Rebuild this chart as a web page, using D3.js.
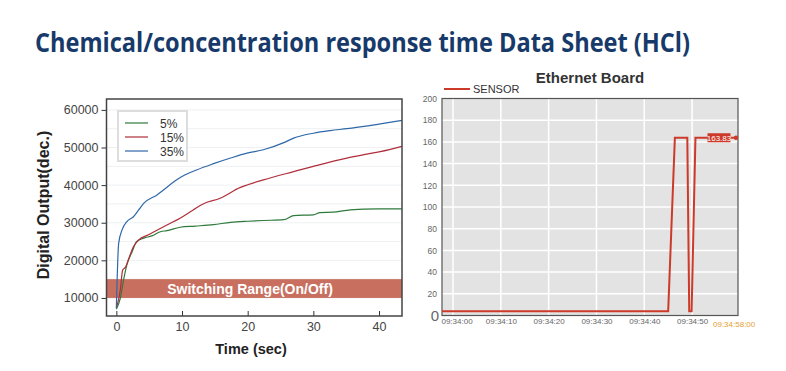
<!DOCTYPE html>
<html>
<head>
<meta charset="utf-8">
<script src="https://cdn.jsdelivr.net/npm/d3@7"></script>
<style>
  body { margin: 0; background: #fff; }
  svg { display: block; font-family: "Liberation Sans", Arial, sans-serif; }
</style>
</head>
<body>
<svg id="chart" width="786" height="371"></svg>
<script>
'use strict'

/****** DATA ******/

const TITLE = 'Chemical/concentration response time Data Sheet (HCl)'

// left chart: [time (sec), digital output]
const series5 = [[0,7000],[0.6,9900],[1.1,14800],[1.6,18800],[2.4,22300],[3.1,25000],[4.2,25900],[5.4,26500],
  [6.7,27600],[7.7,27900],[9.7,28800],[12,29100],[14.8,29500],[17.4,30100],[20,30400],[22.4,30600],
  [25.5,30800],[27,31900],[30,32100],[31,32700],[33,32800],[35.1,33300],[37.7,33600],[40,33700],[43.5,33700]]
const series15 = [[0,7300],[0.6,12100],[0.96,17400],[1.4,18200],[1.9,20500],[2.6,23600],[3.4,25400],[4.9,26800],
  [7.7,29400],[9.7,31200],[11.7,33400],[13.2,35000],[15.8,36500],[18.9,39400],[20,40100],[22.4,41400],
  [27,43600],[30,45000],[35.1,47200],[37.7,48100],[40.2,48900],[43.5,50300]]
const series35 = [[0,7300],[0.35,24500],[0.87,28100],[1.6,30300],[2.6,31600],[3.4,33400],[4.2,35200],[6.2,37400],
  [9.2,41400],[10,42300],[12.3,44100],[14.8,45700],[17.4,47200],[19.9,48500],[22.4,49400],[25.5,51300],
  [27,52500],[30,53800],[32.6,54500],[35.1,55000],[37.7,55600],[40.2,56300],[43.5,57200]]
const seriesNames = ['5%', '15%', '35%']
const seriesColors = ['#2e7a3c', '#b02e3a', '#2f68a8']
const leftYTicks = [10000, 20000, 30000, 40000, 50000, 60000]
const leftXTicks = [0, 10, 20, 30, 40]
const switchRange = [10000, 15000]

// right chart: seconds after 09:34:00, sensor reading
const sensorTimes  = [-2.3, 45, 46.4, 49, 49.4, 49.9, 50.7, 59.6]
const sensorValues = [4, 4, 163.83, 163.83, 4, 4, 163.83, 163.83]
const sensorLast = 163.83
const rightYTicks = [0, 20, 40, 60, 80, 100, 120, 140, 160, 180, 200]
const rightXTicks = [0, 10, 20, 30, 40, 50]
const rightXLabels = ['09:34:00', '09:34:10', '09:34:20', '09:34:30', '09:34:40', '09:34:50']
const rightLastLabel = '09:34:58:00'

/****** DRAW ******/

const svg = d3.select('#chart')

svg.append('text')
  .attr('x', 35).attr('y', 52)
  .attr('font-family', '"Open Sans", sans-serif')
  .attr('font-weight', 700)
  .attr('font-size', 26)
  .attr('fill', '#173a6a')
  .attr('textLength', 655)
  .attr('lengthAdjust', 'spacingAndGlyphs')
  .text(TITLE)

// ---- left chart ----
const L = { left: 106.5, right: 402, top: 99, bottom: 316 }
const x1 = d3.scaleLinear().domain([-1.5, 43.5]).range([L.left, L.right])
const y1 = d3.scaleLinear().domain([5200, 62900]).range([L.bottom, L.top])

const left = svg.append('g')

// faint grid every 5000
left.append('g')
  .selectAll('line')
  .data(d3.range(10000, 62000, 5000))
  .join('line')
    .attr('x1', L.left).attr('x2', L.right)
    .attr('y1', d => y1(d)).attr('y2', d => y1(d))
    .attr('stroke', '#eef0f2').attr('stroke-width', 1)

left.append('rect')
  .attr('x', L.left).attr('width', L.right - L.left)
  .attr('y', y1(switchRange[1])).attr('height', y1(switchRange[0]) - y1(switchRange[1]))
  .attr('fill', '#c86f5f')

left.append('text')
  .attr('x', 250).attr('y', y1(12500) + 5)
  .attr('text-anchor', 'middle')
  .attr('font-weight', 700).attr('font-size', 14)
  .attr('fill', '#fff')
  .text('Switching Range(On/Off)')

const line1 = d3.line()
  .x(d => x1(d[0]))
  .y(d => y1(d[1]))
  .curve(d3.curveMonotoneX)

left.selectAll('.series')
  .data([series5, series15, series35])
  .join('path')
    .attr('class', 'series')
    .attr('fill', 'none')
    .attr('stroke', (d, i) => seriesColors[i])
    .attr('stroke-width', 1.2)
    .attr('d', line1)

// axes: y ticks outward, x ticks inward
const yAx1 = left.append('g')
  .attr('transform', `translate(${L.left},0)`)
  .call(d3.axisLeft(y1).tickValues(leftYTicks).tickSize(5).tickPadding(3).tickFormat(d3.format('d')))
const xAx1 = left.append('g')
  .attr('transform', `translate(0,${L.bottom})`)
  .call(d3.axisBottom(x1).tickValues(leftXTicks).tickSize(-5).tickPadding(6))
for (const ax of [yAx1, xAx1]) {
  ax.select('.domain').remove()
  ax.selectAll('line').attr('stroke', '#333')
  ax.selectAll('text').attr('font-size', 12.5).attr('fill', '#444')
    .attr('font-family', '"Liberation Sans", Arial, sans-serif')
}

left.append('rect')
  .attr('x', L.left).attr('y', L.top)
  .attr('width', L.right - L.left).attr('height', L.bottom - L.top)
  .attr('fill', 'none').attr('stroke', '#444').attr('stroke-width', 1.5)

// legend
const lg = left.append('g')
lg.append('rect')
  .attr('x', 118).attr('y', 111).attr('width', 69).attr('height', 50)
  .attr('fill', '#fff').attr('stroke', '#ddd').attr('stroke-width', 2)
seriesNames.forEach((n, i) => {
  const yy = 123 + i * 14
  lg.append('line').attr('x1', 125).attr('x2', 148).attr('y1', yy).attr('y2', yy)
    .attr('stroke', seriesColors[i]).attr('stroke-width', 1.2)
  lg.append('text').attr('x', 160).attr('y', yy + 4.5)
    .attr('font-size', 12).attr('fill', '#333').text(n)
})

left.append('text')
  .attr('transform', 'translate(49,205) rotate(-90)')
  .attr('text-anchor', 'middle')
  .attr('font-weight', 700).attr('font-size', 16).attr('fill', '#222')
  .text('Digital Output(dec.)')

left.append('text')
  .attr('x', 251).attr('y', 354)
  .attr('text-anchor', 'middle')
  .attr('font-weight', 700).attr('font-size', 14.5).attr('fill', '#222')
  .text('Time (sec)')

// ---- right chart ----
const R = { left: 442, right: 738, top: 98.5, bottom: 315.5 }
const x2 = d3.scaleLinear().domain([-2.3, 59.6]).range([R.left, R.right])
const y2 = d3.scaleLinear().domain([0, 200]).range([R.bottom, R.top])

const right = svg.append('g')

right.append('rect')
  .attr('x', R.left).attr('y', R.top)
  .attr('width', R.right - R.left).attr('height', R.bottom - R.top)
  .attr('fill', '#e4e3e3')

right.append('g').selectAll('line')
  .data(rightYTicks.slice(1, -1))
  .join('line')
    .attr('x1', R.left).attr('x2', R.right)
    .attr('y1', d => y2(d)).attr('y2', d => y2(d))
    .attr('stroke', '#fff').attr('stroke-width', 1.5)

right.append('g').selectAll('line')
  .data(rightXTicks)
  .join('line')
    .attr('x1', d => x2(d)).attr('x2', d => x2(d))
    .attr('y1', R.top).attr('y2', R.bottom)
    .attr('stroke', '#fff').attr('stroke-width', 1.5)

right.append('rect')
  .attr('x', R.left).attr('y', R.top)
  .attr('width', R.right - R.left).attr('height', R.bottom - R.top)
  .attr('fill', 'none').attr('stroke', '#555').attr('stroke-width', 1.2)

const yAx2 = right.append('g')
  .attr('transform', `translate(${R.left},0)`)
  .call(d3.axisLeft(y2).tickValues(rightYTicks).tickSize(0).tickPadding(5))
yAx2.select('.domain').remove()
yAx2.selectAll('text')
  .attr('font-size', d => d === 0 ? 15 : 8.5)
  .attr('dy', d => d === 0 ? '0.3em' : '0.32em')
  .attr('dx', d => d === 0 ? 2 : 0)
  .attr('fill', '#666')

const xAx2 = right.append('g')
  .attr('transform', `translate(0,${R.bottom})`)
  .call(d3.axisBottom(x2).tickValues(rightXTicks).tickSize(0).tickPadding(3)
    .tickFormat((d, i) => rightXLabels[i]))
xAx2.select('.domain').remove()
xAx2.selectAll('text')
  .attr('font-size', 8).attr('fill', '#666')
  .attr('dx', (d, i) => i === 0 ? 3.5 : 0)

right.append('text')
  .attr('x', 713).attr('y', R.bottom + 11)
  .attr('font-size', 8).attr('fill', '#e8a030')
  .text(rightLastLabel)

const line2 = d3.line()
  .x((d, i) => x2(sensorTimes[i]))
  .y(d => y2(d))

right.append('path')
  .datum(sensorValues)
  .attr('fill', 'none')
  .attr('stroke', '#cc3a2a')
  .attr('stroke-width', 2)
  .attr('d', line2)

// last-value marker
const yLast = y2(sensorLast)
right.append('rect')
  .attr('x', 707.5).attr('y', yLast - 4.5).attr('width', 23).attr('height', 9)
  .attr('fill', '#cc3a2a')
right.append('text')
  .attr('x', 719).attr('y', yLast + 3)
  .attr('text-anchor', 'middle')
  .attr('font-size', 8).attr('fill', '#fff')
  .text(d3.format('.2f')(sensorLast))
right.append('circle')
  .attr('cx', R.right - 2).attr('cy', yLast).attr('r', 2.2)
  .attr('fill', '#cc3a2a')

// legend + title
right.append('line')
  .attr('x1', 444).attr('x2', 470).attr('y1', 89).attr('y2', 89)
  .attr('stroke', '#cc3a2a').attr('stroke-width', 2)
right.append('text')
  .attr('x', 473).attr('y', 93)
  .attr('font-size', 11).attr('fill', '#333')
  .text('SENSOR')

right.append('text')
  .attr('x', 590).attr('y', 83)
  .attr('text-anchor', 'middle')
  .attr('font-weight', 700).attr('font-size', 15).attr('fill', '#333')
  .text('Ethernet Board')
</script>
</body>
</html>
